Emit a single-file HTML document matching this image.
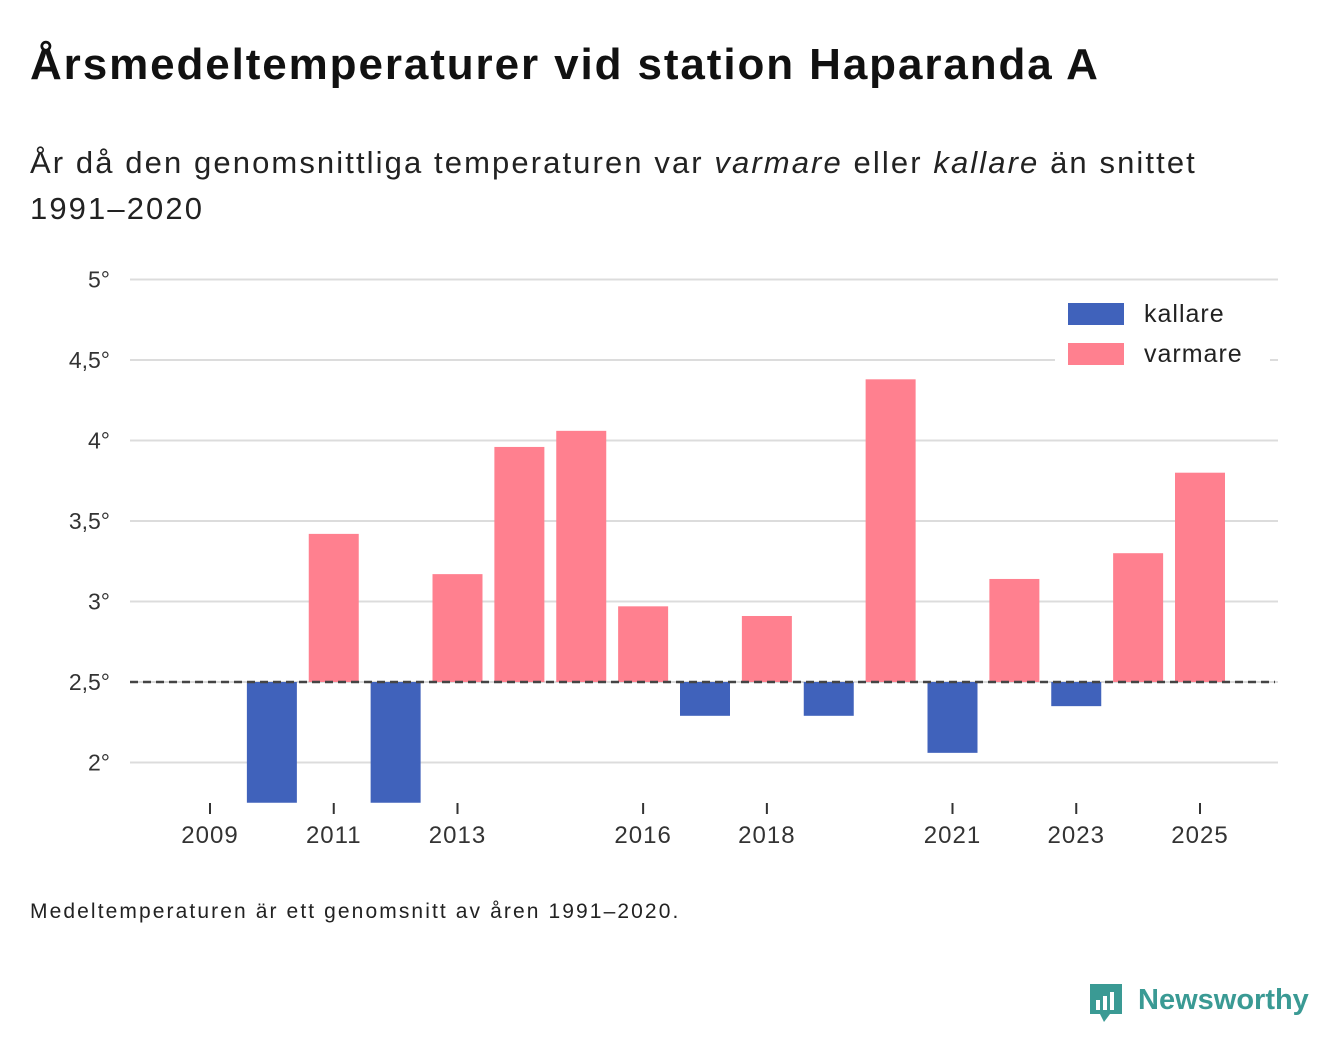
<!DOCTYPE html>
<html><head><meta charset="utf-8"><style>
body{margin:0;width:1340px;height:1056px;background:#fff;font-family:"Liberation Sans",sans-serif;color:#111;overflow:hidden;position:relative}
.t{position:absolute;left:30px;top:40px;font-size:44px;letter-spacing:1.9px;font-weight:bold;margin:0}
.s{position:absolute;left:30px;top:140px;font-size:31px;letter-spacing:2.1px;line-height:46px;width:1200px;color:#222}
.f{position:absolute;left:30px;top:900px;font-size:21px;letter-spacing:2.1px;color:#222}
.logo{position:absolute;left:1088px;top:982px;font-size:29px;font-weight:bold;color:#3a9a94}
svg{position:absolute;left:0;top:0}
</style></head><body>
<h1 class="t">Årsmedeltemperaturer vid station Haparanda A</h1>
<div class="s">År då den genomsnittliga temperaturen var <i>varmare</i> eller <i>kallare</i> än snittet 1991–2020</div>
<svg id="c" width="1340" height="1056"></svg>
<div class="f">Medeltemperaturen är ett genomsnitt av åren 1991–2020.</div>
<div class="logo"><svg width="36" height="44" style="position:relative;left:0;top:0;vertical-align:middle;margin-right:12px"><path d="M2 2h32v30H22l-6 8-4-8H2z" fill="#3a9a94"/><rect x="8" y="18" width="4" height="10" fill="#fff"/><rect x="15" y="14" width="4" height="14" fill="#fff"/><rect x="22" y="10" width="4" height="18" fill="#fff"/></svg><span style="position:absolute;left:50px;top:2px">Newsworthy</span></div>
<script>
const years=[2009,2010,2011,2012,2013,2014,2015,2016,2017,2018,2019,2020,2021,2022,2023,2024,2025];
const temps=[2.5,1.7,3.42,1.7,3.17,3.96,4.06,2.97,2.29,2.91,2.29,4.38,2.06,3.14,2.35,3.30,3.80];
const baseline=2.5;
const yTicks=[2,2.5,3,3.5,4,4.5,5];
const yTickLabels=["2°","2,5°","3°","3,5°","4°","4,5°","5°"];
const xTicks=[2009,2011,2013,2016,2018,2021,2023,2025];
const svg=document.getElementById('c');const NS='http://www.w3.org/2000/svg';
const y=v=>682-(v-2.5)*161;const x=yr=>210+(yr-2009)*61.875;
const yMin=1.75;
function mk(t,a,p){const e=document.createElementNS(NS,t);for(const k in a)e.setAttribute(k,a[k]);(p||svg).appendChild(e);return e;}
yTicks.forEach((v,i)=>{const l=mk('line',{x1:130,x2:1278,y1:y(v),y2:y(v),stroke:'#dcdcdc','stroke-width':2});


const t=mk('text',{x:110,y:y(v)+8,'text-anchor':'end','font-size':23,fill:'#333','font-family':'Liberation Sans, sans-serif'});t.textContent=yTickLabels[i];

});
years.forEach((yr,i)=>{const v=Math.max(temps[i],yMin);const top=Math.min(y(v),y(baseline));const h=Math.abs(y(v)-y(baseline));
const r=mk('rect',{x:x(yr)-25,y:top,width:50,height:h,fill:temps[i]>=baseline?'#ff808f':'#4062bb'});

});
const d=mk('line',{x1:130,x2:1275,y1:y(baseline),y2:y(baseline),stroke:'#444','stroke-width':2.5,'stroke-dasharray':'8,5'});


xTicks.forEach(yr=>{const l=mk('line',{x1:x(yr),x2:x(yr),y1:803,y2:814,stroke:'#333','stroke-width':2});


const t=mk('text',{x:x(yr),y:843,'text-anchor':'middle','font-size':24,'letter-spacing':1,fill:'#333','font-family':'Liberation Sans, sans-serif'});t.textContent=yr;

});
const lg=mk('rect',{x:1055,y:295,width:215,height:80,fill:'#fff'});


[['kallare','#4062bb',303],['varmare','#ff808f',343]].forEach(([n,c,yy])=>{const r=mk('rect',{x:1068,y:yy,width:56,height:22,fill:c});


const t=mk('text',{x:1144,y:yy+19,'font-size':25,'letter-spacing':1,fill:'#222','font-family':'Liberation Sans, sans-serif'});t.textContent=n;

});
</script>
</body></html>
